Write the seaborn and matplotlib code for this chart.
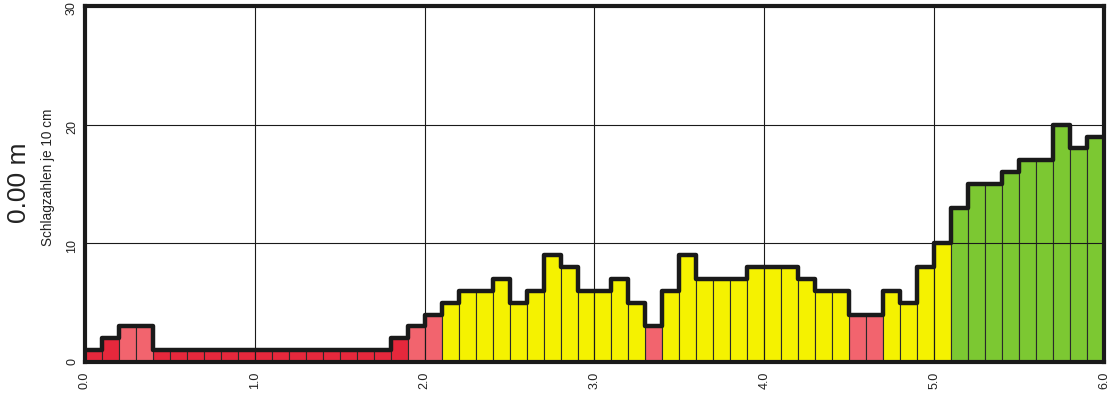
import matplotlib

# non-interactive backend, no display in the sandbox
matplotlib.use("Agg")
import matplotlib.pyplot as plt
import seaborn as sns
import numpy as np
import pandas as pd

# blow counts per 10 cm, depth 0.0 m to 6.0 m
blows = [1, 2, 3, 3, 1, 1, 1, 1, 1, 1, 1, 1, 1, 1, 1, 1, 1, 1, 2, 3,
         4, 5, 6, 6, 7, 5, 6, 9, 8, 6, 6, 7, 5, 3, 6, 9, 7, 7, 7, 8,
         8, 8, 7, 6, 6, 4, 4, 6, 5, 8, 10, 13, 15, 15, 16, 17, 17, 20, 18, 19]
step_m = 0.1
depth_ticks = [0, 1, 2, 3, 4, 5, 6]
blow_ticks = [0, 10, 20, 30]

# colour classes by blow count
class_bounds = [0, 2, 4, 10, 100]
class_names = ["1-2", "3-4", "5-10", ">10"]
palette = {"1-2": "#e6283c", "3-4": "#f2646e", "5-10": "#f5f200", ">10": "#7cc832"}

edges = np.round(np.arange(len(blows) + 1) * step_m, 1)
df = pd.DataFrame({"mitte": np.round(edges[:-1] + step_m / 2, 2), "n": blows})
df["klasse"] = pd.cut(df["n"], bins=class_bounds, labels=class_names).astype(str)
outline = pd.DataFrame({"tiefe": edges, "n": blows + blows[-1:]})

sns.set_style("white")
plt.rcParams["font.family"] = ["Liberation Sans", "DejaVu Sans"]

fig = plt.figure(figsize=(11.18, 4.05), dpi=100)
ax = fig.add_axes([0.076, 0.106, 0.9115, 0.879])

# coloured bars, one per 10 cm
sns.barplot(data=df, x="mitte", y="n", hue="klasse", hue_order=class_names,
            palette=palette, native_scale=True, dodge=False, width=1,
            saturation=1, edgecolor="#2a2a2a", linewidth=0.8, legend=False, ax=ax)
# thick step outline on top
sns.lineplot(data=outline, x="tiefe", y="n", drawstyle="steps-post", estimator=None,
             color="#1a1a1a", linewidth=3.2, zorder=4, ax=ax)

ax.set_xlim(0, 6)
ax.set_ylim(0, 30)
ax.set_xticks(depth_ticks)
ax.set_xticklabels([f"{d:.1f}" for d in depth_ticks])
ax.set_yticks(blow_ticks)
ax.tick_params(axis="x", rotation=90, length=0, pad=7, labelsize=9, colors="#222222")
ax.tick_params(axis="y", rotation=90, length=0, pad=5, labelsize=9, colors="#222222")
ax.set_axisbelow(False)
ax.grid(True, color="#1a1a1a", linewidth=0.8)
for s in ax.spines.values():
    s.set_linewidth(3)
    s.set_color("#1a1a1a")
    s.set_zorder(5)

ax.set_xlabel("")
ax.set_ylabel("Schlagzahlen je 10 cm", fontsize=9.8, color="#222222")
ax.yaxis.set_label_coords(-0.029, 0.52)
fig.text(19 / 1118, 1 - 183 / 405, "0.00 m", rotation=90, fontsize=19,
         ha="center", va="center", color="#222222")

fig.savefig("out.png", dpi=100)
